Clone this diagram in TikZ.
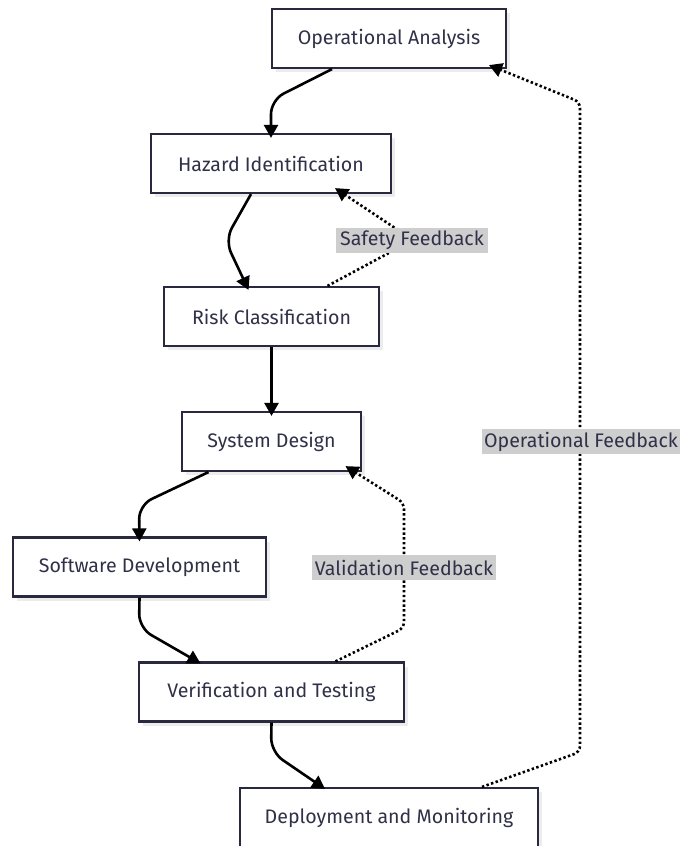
\documentclass[tikz,border=0pt]{standalone}
\usepackage{fontspec}
\setmainfont{Fira Sans}
\usetikzlibrary{arrows.meta,shadows}
\definecolor{txt}{RGB}{48,48,72}
\definecolor{bord}{RGB}{40,40,62}
\definecolor{lblbg}{RGB}{206,206,206}
\definecolor{shd}{RGB}{236,236,236}
\begin{document}
\begin{tikzpicture}[x=1pt,y=-1pt,
  box/.style={draw=bord, line width=2.2pt, fill=white, text=txt, inner sep=0pt,
    minimum height=59pt, font=\fontsize{19.6}{24}\selectfont,
    copy shadow={shadow xshift=4pt, shadow yshift=-4pt, fill=shd, draw=none}},
  flow/.style={line width=2.6pt, draw=black, rounded corners=14pt,
    -{Triangle[length=13pt,width=14pt]}},
  fb/.style={line width=2.6pt, draw=black, dash pattern=on 2.4pt off 2.4pt, rounded corners=6pt,
    -{Triangle[length=13pt,width=14pt]}},
  lbl/.style={fill=lblbg, text=txt, inner sep=0pt, minimum height=25pt, font=\fontsize{19.6}{24}\selectfont}
]
\useasboundingbox (0,0) rectangle (681,846);
\node[box, minimum width=234pt] (oa) at (389,38.5) {\raisebox{-1pt}{Operational Analysis}};
\node[box, minimum width=240pt] (hi) at (271,163.5) {\raisebox{-1pt}{Hazard Identification}};
\node[box, minimum width=215pt] (rc) at (271.5,316.5) {\raisebox{-1pt}{Risk Classification}};
\node[box, minimum width=179pt] (sd) at (271.5,441.5) {\raisebox{-1pt}{System Design}};
\node[box, minimum width=253pt] (swd) at (139.5,567) {\raisebox{-1pt}{Software Development}};
\node[box, minimum width=265pt] (vt) at (271.5,692) {\raisebox{-1pt}{Verification and Testing}};
\node[box, minimum width=298pt] (dm) at (389,817.5) {\raisebox{-1pt}{Deployment and Monitoring}};

% main flow
\draw[flow] ([xshift=-57pt]oa.south) -- (271,100) -- ([yshift=-5pt]hi.north);
\draw[flow] ([xshift=-20pt]hi.south) -- (225,240) -- ([xshift=-23pt,yshift=-4pt]rc.north);
\draw[flow] (rc.south) -- ([yshift=-5pt]sd.north);
\draw[flow] ([xshift=-63pt]sd.south) -- (139,505) -- ([yshift=-5pt]swd.north);
\draw[flow] (swd.south) -- (139,628) -- ([xshift=-71pt,yshift=-2pt]vt.north);
\draw[flow] (vt.south) -- (271,752) -- ([xshift=-64pt,yshift=-2pt]dm.north);

% feedback
\draw[fb] ([xshift=56pt]rc.north) -- (413,240) -- ([xshift=64pt,yshift=6pt]hi.south);
\node[lbl, minimum width=152pt] (lsf) at (412,240.5) {\raisebox{-1pt}{Safety Feedback}};

\draw[fb] ([xshift=64pt]vt.north) -- (404,628) -- (404,503) -- ([xshift=74pt,yshift=6pt]sd.south);
\node[lbl, minimum width=184pt] (lvf) at (404,567.5) {\raisebox{-1pt}{Validation Feedback}};

\draw[fb] ([xshift=93pt]dm.north) -- (580,752) -- (580,102) -- ([xshift=100pt,yshift=4pt]oa.south);
\node[lbl, minimum width=198pt] (lof) at (581,441.5) {\raisebox{-1pt}{Operational Feedback}};
\end{tikzpicture}
\end{document}
